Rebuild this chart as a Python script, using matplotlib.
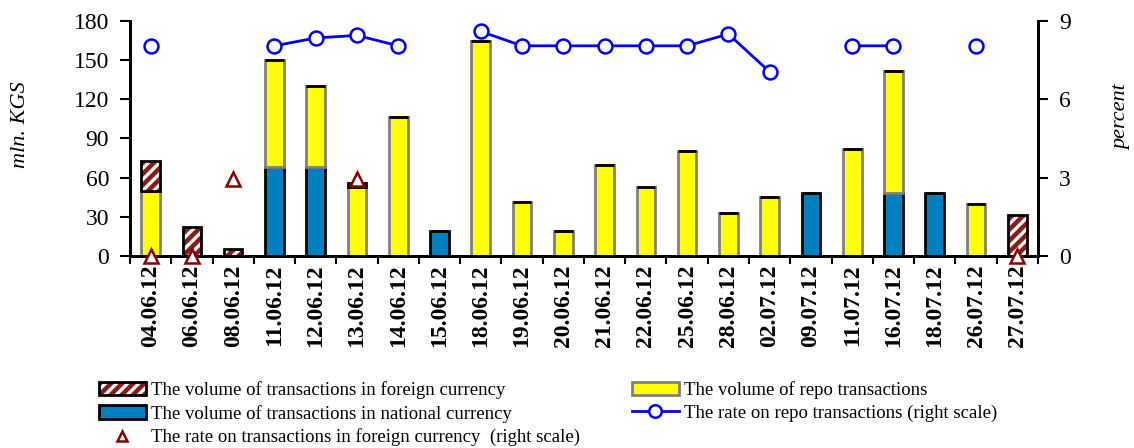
import matplotlib
matplotlib.use("Agg")
import matplotlib.pyplot as plt
import numpy as np
from matplotlib.patches import Patch
from matplotlib.lines import Line2D

dates = ['04.06.12', '06.06.12', '08.06.12', '11.06.12', '12.06.12', '13.06.12',
         '14.06.12', '15.06.12', '18.06.12', '19.06.12', '20.06.12', '21.06.12',
         '22.06.12', '25.06.12', '28.06.12', '02.07.12', '09.07.12', '11.07.12',
         '16.07.12', '18.07.12', '26.07.12', '27.07.12']

# volumes, mln. KGS
national = [0, 0, 0, 68, 68, 0, 0, 19.5, 0, 0, 0, 0, 0, 0, 0, 0, 48.5, 0, 48.5, 48.5, 0, 0]
repo = [50, 0, 0, 82, 62, 53, 106.5, 0, 165, 41, 19.5, 70, 53, 80.5, 33, 45.5, 0, 82, 93, 0, 39.5, 0]
foreign = [23, 22.5, 5.5, 0, 0, 3, 0, 0, 0, 0, 0, 0, 0, 0, 0, 0, 0, 0, 0, 0, 0, 31.5]

# rates, percent (nan = no deals that day)
nan = np.nan
repo_rate = [8.05, nan, nan, 8.05, 8.35, 8.45, 8.05, nan, 8.6, 8.05, 8.05, 8.05, 8.05,
             8.05, 8.5, 7.05, nan, 8.05, 8.05, nan, 8.05, nan]
foreign_rate = [0, 0, 2.95, nan, nan, 2.95, nan, nan, nan, nan, nan, nan, nan, nan,
                nan, nan, nan, nan, nan, nan, nan, 0]

plt.rcParams['font.family'] = ['Liberation Serif', 'DejaVu Serif']
plt.rcParams['hatch.linewidth'] = 2.4

c_blue = '#0080C0'
c_yellow = '#FFFF00'
c_red = '#8B1A1A'

fig = plt.figure(figsize=(11.34, 4.48), dpi=100)
ax = fig.add_axes([0.1146, 0.4286, 0.8007, 0.5245])
ax2 = ax.twinx()

x = np.arange(len(dates))
w = 0.45
nat = np.array(national)
rep = np.array(repo)
frg = np.array(foreign)

ax.bar(x, nat, w, color=c_blue, edgecolor='black', linewidth=2, zorder=2)
ax.bar(x, rep, w, bottom=nat, color=c_yellow, edgecolor='#808080', linewidth=2, zorder=2)
# hatched foreign-currency part: white stripes, then a black outline on top
ax.bar(x, frg, w, bottom=nat + rep, color=c_red, edgecolor='white', hatch='///',
       linewidth=0, zorder=2)
ax.bar(x, frg, w, bottom=nat + rep, fill=False, edgecolor='black', linewidth=2, zorder=3)

ax.set_xlim(-0.5, len(dates) - 0.5)
ax.set_ylim(0, 180)
ax.set_yticks(np.arange(0, 181, 30))
ax.set_xticks(x)
ax.set_xticklabels(dates, rotation=90, fontsize=17, fontweight='bold')
ax.set_xticks(np.arange(-0.5, len(dates), 1), minor=True)
ax.tick_params(axis='x', which='major', length=0, pad=6)
ax.tick_params(axis='x', which='minor', length=6, width=1.5, direction='out')
ax.tick_params(axis='y', labelsize=17, length=7, width=1.5, direction='out', pad=8)
ax.set_ylabel('mln. KGS', fontsize=16, style='italic')
ax.yaxis.set_label_coords(-0.11, 0.56)

ax2.plot(x, repo_rate, color='#0000FF', linewidth=2, marker='o', markersize=10,
         markerfacecolor='white', markeredgewidth=1.8, zorder=5, clip_on=False)
ax2.plot(x, foreign_rate, linestyle='none', marker='^', markersize=10,
         markerfacecolor='white', markeredgecolor='#8B0000', markeredgewidth=1.8,
         zorder=6, clip_on=False)
ax2.set_ylim(0, 9)
ax2.set_yticks(np.arange(0, 10, 3))
ax2.tick_params(axis='y', labelsize=17, length=7, width=1.5, direction='out', pad=8)
ax2.set_ylabel('percent', fontsize=16, style='italic')
ax2.yaxis.set_label_coords(1.082, 0.59)

for a in (ax, ax2):
    a.spines['top'].set_visible(False)
    for s in ('left', 'right', 'bottom'):
        a.spines[s].set_linewidth(2)
ax.set_zorder(ax2.get_zorder() - 1)
ax2.patch.set_visible(False)
ax.patch.set_visible(False)

handles = [
    (Patch(facecolor=c_red, edgecolor='white', hatch='///', linewidth=0),
     Patch(fill=False, edgecolor='black', linewidth=2)),
    Patch(facecolor=c_blue, edgecolor='black', linewidth=2),
    Line2D([], [], linestyle='none', marker='^', markersize=7, markerfacecolor='white',
           markeredgecolor='#8B0000', markeredgewidth=1.8),
    Patch(facecolor=c_yellow, edgecolor='#808080', linewidth=2),
    Line2D([], [], color='#0000FF', linewidth=2, marker='o', markersize=9,
           markerfacecolor='white', markeredgewidth=1.8),
]
labels = [
    'The volume of transactions in foreign currency',
    'The volume of transactions in national currency',
    'The rate on transactions in foreign currency  (right scale)',
    'The volume of repo transactions',
    'The rate on repo transactions (right scale)',
]
fig.legend(handles, labels, ncol=2, loc='upper left', bbox_to_anchor=(0.079, 0.17),
           frameon=False, fontsize=13.5, handlelength=2.5, handleheight=0.7,
           handletextpad=0.25, labelspacing=0.3, columnspacing=2.8, borderpad=0)

fig.savefig('out.png', dpi=100)
